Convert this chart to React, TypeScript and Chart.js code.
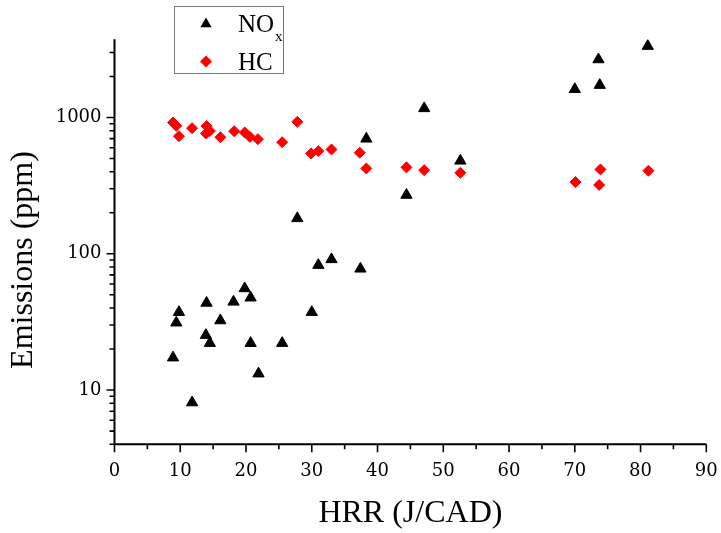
import React, { useEffect, useRef } from "react";
import { Chart, registerables } from "chart.js";

Chart.register(...registerables);

// HRR (J/CAD) and NOx emissions (ppm)
const hrrNOx = [8.9, 9.4, 9.8, 11.8, 14.0, 13.9, 14.5, 16.1, 18.1, 19.8, 20.7, 20.7, 21.9, 25.5, 27.8, 30.0, 31.0, 33.0, 37.4, 38.3, 44.4, 47.1, 52.6, 70.0, 73.6, 73.8, 81.1];
const noxValues = [17.3, 31.2, 37.3, 8.1, 43.6, 25.3, 22.1, 32.4, 44.4, 55.7, 47.6, 22.1, 13.2, 22.1, 182, 37.3, 82.6, 91, 77.6, 698, 270, 1167, 481, 1614, 2667, 1729, 3342];

// HRR (J/CAD) and HC emissions (ppm)
const hrrHC = [8.9, 9.4, 9.8, 11.8, 14.0, 13.9, 14.5, 16.1, 18.2, 19.8, 20.6, 21.8, 25.5, 27.8, 29.9, 31.0, 33.0, 37.3, 38.3, 44.4, 47.1, 52.6, 70.1, 73.9, 73.7, 81.2];
const hcValues = [920, 869, 730, 836, 865, 764, 798, 717, 794, 777, 721, 694, 659, 930, 545, 567, 583, 552, 423, 431, 411, 393, 336, 416, 320, 407];

const xMin = 0;
const xMax = 90;
const xStep = 10;
const xMinorStep = 5;
const yMin = 4;
const yMax = 3750;
const yLabelValues = [10, 100, 1000];

const xTitle = "HRR (J/CAD)";
const yTitle = "Emissions (ppm)";
const seriesNames = ["NO", "HC"];
const noxSub = "x";

const TITLE_FONT = '"Liberation Serif", "Times New Roman", serif';
const TICK_FONT = '"DejaVu Serif", serif';

const axesPlugin = {
  id: "customAxes",
  afterDraw(chart: any) {
    const { ctx, chartArea, scales } = chart;
    const xs = scales.x;
    const ys = scales.y;
    ctx.save();
    ctx.strokeStyle = "#000";
    // axis lines
    ctx.lineWidth = 2;
    ctx.beginPath();
    ctx.moveTo(chartArea.left, chartArea.top);
    ctx.lineTo(chartArea.left, chartArea.bottom + 1);
    ctx.moveTo(chartArea.left - 1, chartArea.bottom);
    ctx.lineTo(chartArea.right, chartArea.bottom);
    ctx.stroke();

    // x ticks
    ctx.lineWidth = 1.6;
    ctx.beginPath();
    for (let v = xMin; v <= xMax + 1e-9; v += xMinorStep) {
      const px = xs.getPixelForValue(v);
      const major = Math.abs(v % xStep) < 1e-9;
      ctx.moveTo(px, chartArea.bottom);
      ctx.lineTo(px, chartArea.bottom + (major ? 8 : 5));
    }
    // y ticks (log)
    for (let d = 0; d <= 4; d++) {
      for (let m = 1; m <= 9; m++) {
        const v = m * Math.pow(10, d);
        if (v < yMin || v > yMax) continue;
        const py = ys.getPixelForValue(v);
        const major = m === 1;
        ctx.moveTo(chartArea.left, py);
        ctx.lineTo(chartArea.left - (major ? 8 : 5), py);
      }
    }
    ctx.stroke();

    // axis titles
    ctx.fillStyle = "#000";
    ctx.font = `32px ${TITLE_FONT}`;
    ctx.textAlign = "center";
    ctx.textBaseline = "alphabetic";
    ctx.fillText(xTitle, (chartArea.left + chartArea.right) / 2, 521.5);
    ctx.save();
    ctx.translate(32, 260);
    ctx.rotate(-Math.PI / 2);
    ctx.fillText(yTitle, 0, 0);
    ctx.restore();

    // legend
    ctx.lineWidth = 1;
    ctx.strokeStyle = "#7a7a7a";
    ctx.strokeRect(174.5, 6.5, 109, 67);
    // triangle
    const tr = 6.5;
    const tx = 206, ty = 24;
    ctx.fillStyle = "#000";
    ctx.beginPath();
    ctx.moveTo(tx, ty - tr);
    ctx.lineTo(tx + tr * Math.sin((2 * Math.PI) / 3), ty - tr * Math.cos((2 * Math.PI) / 3));
    ctx.lineTo(tx + tr * Math.sin((4 * Math.PI) / 3), ty - tr * Math.cos((4 * Math.PI) / 3));
    ctx.closePath();
    ctx.fill();
    // diamond
    const dr = 6;
    const dx = 206, dy = 61.5;
    ctx.fillStyle = "#ff0000";
    ctx.beginPath();
    ctx.moveTo(dx - dr, dy);
    ctx.lineTo(dx, dy - dr);
    ctx.lineTo(dx + dr, dy);
    ctx.lineTo(dx, dy + dr);
    ctx.closePath();
    ctx.fill();
    // texts
    ctx.fillStyle = "#000";
    ctx.textAlign = "left";
    ctx.font = `25px ${TITLE_FONT}`;
    ctx.fillText(seriesNames[0], 238, 32);
    const w = ctx.measureText(seriesNames[0]).width;
    ctx.font = `15px ${TITLE_FONT}`;
    ctx.fillText(noxSub, 238 + w + 1, 41);
    ctx.font = `25px ${TITLE_FONT}`;
    ctx.fillText(seriesNames[1], 238, 70);
    ctx.restore();
  },
};

export default function App() {
  const ref = useRef<HTMLCanvasElement | null>(null);
  useEffect(() => {
    if (!ref.current) return;
    const chart = new Chart(ref.current, {
      type: "scatter",
      data: {
        datasets: [
          {
            label: "NOx",
            data: hrrNOx.map((x, i) => ({ x, y: noxValues[i] })),
            pointStyle: "triangle",
            pointRadius: 6.5,
            backgroundColor: "#000",
            borderColor: "#000",
            borderWidth: 1,
          },
          {
            label: "HC",
            data: hrrHC.map((x, i) => ({ x, y: hcValues[i] })),
            pointStyle: "rectRot",
            pointRadius: 5.5,
            backgroundColor: "#ff0000",
            borderColor: "#ff0000",
            borderWidth: 1,
          },
        ],
      },
      options: {
        animation: false,
        responsive: false,
        maintainAspectRatio: false,
        layout: { padding: { left: 0, right: 14.7, top: 39.3, bottom: 0 } },
        plugins: {
          legend: { display: false },
          tooltip: { enabled: false },
          title: { display: false },
        },
        scales: {
          x: {
            type: "linear",
            min: xMin,
            max: xMax,
            afterFit(s: any) {
              s.height = 533 - 444.3;
              s.paddingLeft = 0;
              s.paddingRight = 0;
            },
            grid: { display: true, drawOnChartArea: false, drawTicks: true, tickLength: 8, tickColor: "rgba(0,0,0,0)" },
            border: { display: false },
            ticks: {
              stepSize: xStep,
              autoSkip: false,
              maxRotation: 0,
              padding: 8,
              color: "#000",
              font: { family: TICK_FONT, size: 18 },
            },
          },
          y: {
            type: "logarithmic",
            min: yMin,
            max: yMax,
            afterFit(s: any) {
              s.width = 114.5;
              s.paddingTop = 0;
              s.paddingBottom = 0;
            },
            grid: { display: true, drawOnChartArea: false, drawTicks: true, tickLength: 8, tickColor: "rgba(0,0,0,0)" },
            border: { display: false },
            ticks: {
              autoSkip: false,
              padding: 5,
              color: "#000",
              font: { family: TICK_FONT, size: 18 },
              callback: (v: any) => (yLabelValues.includes(Number(v)) ? String(v) : ""),
            },
          },
        },
      },
      plugins: [axesPlugin],
    });
    return () => chart.destroy();
  }, []);
  return (
    <div style={{ position: "absolute", left: 0, top: 0, width: 721, height: 533, background: "#fff" }}>
      <canvas ref={ref} width={721} height={533} style={{ display: "block" }} />
    </div>
  );
}
